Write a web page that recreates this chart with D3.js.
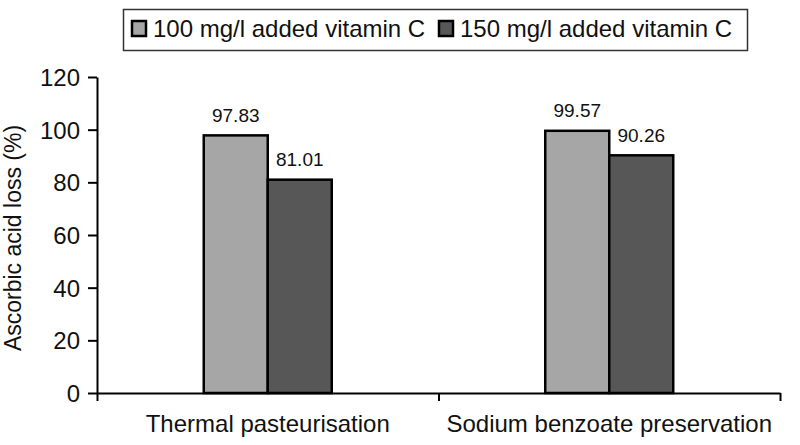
<!DOCTYPE html>
<html>
<head>
<meta charset="utf-8">
<script src="https://cdn.jsdelivr.net/npm/d3@7"></script>
<style>
  body { margin: 0; background: #fff; }
  svg { font-family: "Liberation Sans", Arial, Helvetica, sans-serif; }
  .axis path, .axis line { stroke: #000; stroke-width: 2; }
  .axis text { font-size: 24px; fill: #111; }
</style>
</head>
<body>
<svg id="chart" width="800" height="445"></svg>
<script>
// data
var categories = ["Thermal pasteurisation", "Sodium benzoate preservation"];
var series = ["100 mg/l added vitamin C", "150 mg/l added vitamin C"];
var values100 = [97.83, 99.57];
var values150 = [81.01, 90.26];
var yTicks = [0, 20, 40, 60, 80, 100, 120];
var colors = ["#a6a6a6", "#575757"];

var rows = categories.map(function (c, i) {
    return { cat: c, vals: [values100[i], values150[i]] };
});

var margins = { left: 97, right: 20, top: 77, bottom: 52 };
var plot = { x0: 97, x1: 780, y0: 393, y1: 77 };

var svg = d3.select("#chart");

var xScale = d3.scaleBand()
    .domain(categories)
    .range([plot.x0, plot.x1])
    .padding(0);

var bw = xScale.bandwidth();
var xInner = d3.scaleBand()
    .domain(series)
    .range([bw * (0.5 - 0.1874), bw * (0.5 + 0.1874)])
    .padding(0);

var yScale = d3.scaleLinear()
    .domain([0, 120])
    .range([plot.y0, plot.y1]);

// y axis
svg.append("g")
    .attr("class", "axis")
    .attr("transform", "translate(" + plot.x0 + ",0)")
    .call(d3.axisLeft(yScale).tickValues(yTicks).tickSize(9).tickSizeOuter(0).tickPadding(8))
    .call(function (g) { g.selectAll("text").attr("dy", "0.36em"); });

// x axis: ticks on category boundaries
var boundary = d3.scaleLinear().domain([0, categories.length]).range([plot.x0, plot.x1]);
svg.append("g")
    .attr("class", "axis")
    .attr("transform", "translate(0," + plot.y0 + ")")
    .call(d3.axisBottom(boundary).ticks(categories.length).tickFormat("").tickSize(8).tickSizeOuter(0));

// category labels
svg.append("g")
    .attr("class", "axis")
    .attr("transform", "translate(0," + plot.y0 + ")")
    .call(d3.axisBottom(xScale).tickSize(0).tickPadding(22))
    .call(function (g) {
        g.select(".domain").remove();
        g.selectAll("text").attr("dy", "0.71em");
    });

// bars
var groups = svg.selectAll(".grp")
    .data(rows)
    .enter()
    .append("g")
    .attr("class", "grp")
    .attr("transform", function (d) { return "translate(" + xScale(d.cat) + ",0)"; });

groups.selectAll("rect")
    .data(function (d) { return d.vals.map(function (v, i) { return { s: series[i], v: v, i: i }; }); })
    .enter()
    .append("rect")
    .attr("x", function (d) { return xInner(d.s); })
    .attr("y", function (d) { return yScale(d.v); })
    .attr("width", xInner.bandwidth())
    .attr("height", function (d) { return plot.y0 - yScale(d.v); })
    .attr("fill", function (d) { return colors[d.i]; })
    .attr("stroke", "#000")
    .attr("stroke-width", 2.5);

groups.selectAll(".val")
    .data(function (d) { return d.vals.map(function (v, i) { return { s: series[i], v: v }; }); })
    .enter()
    .append("text")
    .attr("class", "val")
    .attr("x", function (d) { return xInner(d.s) + xInner.bandwidth() / 2; })
    .attr("y", function (d) { return yScale(d.v) - 13.5; })
    .attr("text-anchor", "middle")
    .attr("font-size", 19)
    .attr("fill", "#111")
    .text(function (d) { return d.v.toFixed(2); });

// y axis title
svg.append("text")
    .attr("transform", "translate(21,238) rotate(-90)")
    .attr("text-anchor", "middle")
    .attr("font-size", 23)
    .attr("fill", "#111")
    .text("Ascorbic acid loss (%)");

// legend
var legend = svg.append("g").attr("class", "legend");
legend.append("rect")
    .attr("x", 123.5).attr("y", 9.5)
    .attr("width", 624).attr("height", 41)
    .attr("fill", "#fff")
    .attr("stroke", "#333")
    .attr("stroke-width", 1.5);

var legendX = [131, 438];
var items = legend.selectAll(".item")
    .data(series)
    .enter()
    .append("g")
    .attr("class", "item")
    .attr("transform", function (d, i) { return "translate(" + legendX[i] + ",0)"; });

items.append("rect")
    .attr("x", 1).attr("y", 21)
    .attr("width", 14).attr("height", 15)
    .attr("fill", function (d, i) { return colors[i]; })
    .attr("stroke", "#000")
    .attr("stroke-width", 2.5);

items.append("text")
    .attr("x", 22)
    .attr("y", 37)
    .attr("font-size", 24)
    .attr("fill", "#111")
    .text(function (d) { return d; });
</script>
</body>
</html>
